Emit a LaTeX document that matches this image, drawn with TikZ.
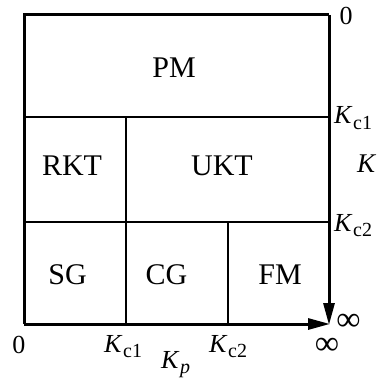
\documentclass[tikz,border=0pt]{standalone}
\usepackage{fontspec}
\setmainfont{Liberation Serif}
\usetikzlibrary{arrows.meta}
\newcommand{\Kwith}[1]{\textit{K}\kern0.5pt\raisebox{-5.5pt}{\fontsize{20}{22}\selectfont #1}}
\begin{document}
\begin{tikzpicture}[x=1pt,y=-1pt,
  region/.style={font=\fontsize{30}{32}\selectfont, anchor=base, inner sep=0pt},
  axlab/.style={font=\fontsize{26}{28}\selectfont, inner sep=0pt},
  inflab/.style={font=\fontsize{34}{36}\selectfont, inner sep=0pt},
  thick frame/.style={line width=3pt},
  thin line/.style={line width=1.3pt},
  axis arrow/.style={line width=3pt,-{Triangle[length=22pt,width=11pt]}}]
\useasboundingbox (0,0) rectangle (382,385);
\coordinate (TL) at (24,15);
\coordinate (TR) at (329,15);
\coordinate (BL) at (24,324);
\coordinate (BR) at (329,324);
\coordinate (L1) at (24,117);
\coordinate (R1) at (329,117);
\coordinate (L2) at (24,222);
\coordinate (R2) at (329,222);
\coordinate (V1t) at (126,117);
\coordinate (V1b) at (126,324);
\coordinate (V2t) at (228,222);
\coordinate (V2b) at (228,324);
% thin inner lines
\draw[thin line] (L1) -- (R1);
\draw[thin line] (L2) -- (R2);
\draw[thin line] (V1t) -- (V1b);
\draw[thin line] (V2t) -- (V2b);
% frame
\draw[thick frame] (BL) -- (TL) -- (TR);
\draw[axis arrow] (TR) -- ([yshift=-1pt]BR);
\draw[axis arrow] (BL) -- ([xshift=1pt]BR);
% regions
\node[region] (pm) at (174,78) {PM};
\node[region] (rkt) at (72,175) {RKT};
\node[region] (ukt) at (222,175) {UKT};
\node[region] (sg) at (67.5,284) {SG};
\node[region] (cg) at (166.5,284) {CG};
\node[region] (fm) at (280,284) {FM};
% right axis labels
\node[axlab] (r0) at (346,16) {0};
\node[axlab, anchor=base west] (rk1) at (334,124) {\Kwith{c1}};
\node[axlab, anchor=base west, font=\fontsize{27}{29}\selectfont] (rk) at (357,172) {\textit{K}};
\node[axlab, anchor=base west] (rk2) at (334,231) {\Kwith{c2}};
\node[inflab] (rinf) at (348.5,322.5) {∞};
% bottom axis labels
\node[axlab] (b0) at (19,345) {0};
\node[axlab, anchor=base west] (bk1) at (104,352) {\Kwith{c1}};
\node[axlab, anchor=base west] (bkp) at (161,368) {\Kwith{\textit{p}}};
\node[axlab, anchor=base west] (bk2) at (209,352) {\Kwith{c2}};
\node[inflab] (binf) at (327,346) {∞};
\end{tikzpicture}
\end{document}
